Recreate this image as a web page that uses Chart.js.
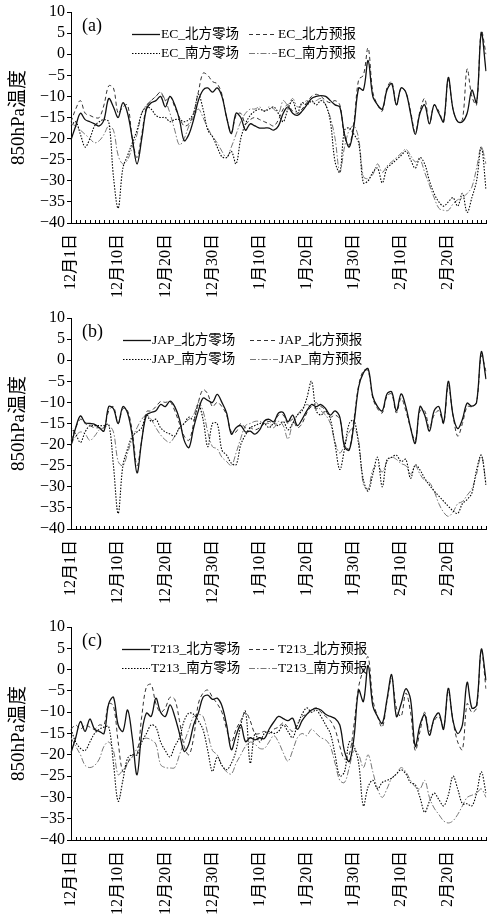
<!DOCTYPE html>
<html>
<head>
<meta charset="utf-8">
<script src="https://cdn.jsdelivr.net/npm/chart.js@4"></script>
<style>
  html, body { margin: 0; padding: 0; background: #fff; }
  canvas { display: block; }
</style>
</head>
<body>
<canvas id="panel-a" width="489" height="306"></canvas>
<canvas id="panel-b" width="489" height="306"></canvas>
<canvas id="panel-c" width="489" height="307"></canvas>
<script>
// 850hPa temperature, north/south regions: zero-field analysis vs forecast
// one point per day, 12月1日 .. 2月26日

const tickLabels = ['12月1日','12月10日','12月20日','12月30日','1月10日','1月20日','1月30日','2月10日','2月20日'];
const tickIndex = [0, 10, 20, 30, 40, 50, 60, 70, 80];
const dayCount = 89;

// ---- (a) EC ----
const ecNames = ['EC_北方零场', 'EC_北方预报', 'EC_南方零场', 'EC_南方预报'];
const ecNorthZero = [-20.3,-17,-14,-15.5,-16,-16.5,-17,-15.5,-10.5,-12.5,
  -15,-11.5,-14,-20,-26,-20,-13,-11.5,-11,-10,
  -12.5,-10,-12,-15.5,-20.5,-19,-15.5,-11,-8.5,-8,
  -9,-8,-10,-15,-18.8,-14,-15,-18,-16.5,-17,
  -17.5,-17.5,-17.5,-18,-17,-14,-12.5,-14,-14.5,-13.5,
  -12,-10.5,-10,-9.8,-10,-11,-12,-12.5,-19,-22,
  -17,-8,-8.5,-1.5,-10,-12,-13,-8.5,-7,-12,
  -8,-9,-14,-19,-14,-12,-16.5,-12,-14,-16,
  -5.5,-13,-16,-16,-14,-8.5,-11.5,5,-4];
const ecNorthFcst = [-16,-13,-11,-14,-14.5,-15,-15,-12,-7.5,-8,
  -14,-12.5,-12,-20,-24.5,-19,-12.5,-11,-10,-9,
  -11,-10,-12.5,-15,-17,-16.5,-14,-9,-4.5,-5,
  -6.5,-7,-9.5,-15,-18.5,-14.5,-14,-16.5,-15.5,-15,
  -15.5,-16,-16.5,-17,-15.5,-13,-12,-13.5,-14,-13,
  -11.5,-10,-9.5,-10,-11,-11.5,-11,-12,-19.5,-21.5,
  -16,-6,-5,1.5,-9,-12,-13.5,-8,-6.5,-12,
  -8,-9,-13.5,-18.5,-13.5,-10.5,-16.5,-12,-13.5,-16,
  -6,-13,-16,-15.5,-3.5,-10,-12,5.5,0];
const ecSouthZero = [-17,-16,-19,-22,-20,-17,-16,-15.5,-16,-29,
  -36.5,-27,-24,-21,-18,-14,-12.5,-13,-14.5,-15,
  -15,-16,-15.5,-15.5,-16,-15.5,-14,-9.5,-13,-18,
  -19.5,-22,-24.3,-24.5,-23,-26,-20,-16.5,-14.5,-13.5,
  -13,-13.5,-13,-12.5,-14,-16,-13,-11,-14,-11.5,
  -12,-11,-12,-11,-12,-16,-25.5,-28,-18,-17.5,
  -19,-21,-30.5,-30,-28,-27,-30.5,-27,-26,-25,
  -24,-23,-25,-27,-24.5,-26,-30,-33,-35,-36,
  -35,-34,-36,-33,-37.5,-34,-30,-22,-32];
const ecSouthFcst = [-16.5,-17,-18,-19,-20,-21,-20.5,-19,-17,-18,
  -24,-26,-25,-22,-19,-14,-12,-11,-10,-9,
  -11,-14,-18,-21.5,-20,-17,-15,-13,-15,-17.5,
  -19.5,-21,-23,-24.5,-22,-19,-16,-14,-13,-13,
  -12.5,-13.5,-12.5,-13,-14,-11,-12,-10.5,-12.5,-12,
  -11,-11.5,-11,-10.5,-12,-15,-20,-28,-22,-18,
  -17,-20,-29,-29.5,-28.5,-26,-28,-26.5,-25.5,-24.5,
  -23.5,-22.5,-24,-25.5,-25,-28,-31,-34,-36.5,-37,
  -37,-35.5,-34.5,-34,-33,-31.5,-27,-22,-26];

// ---- (b) JAP ----
const japNames = ['JAP_北方零场', 'JAP_北方预报', 'JAP_南方零场', 'JAP_南方预报'];
const japNorthZero = [-20.3,-16,-13.2,-14.8,-15,-15.2,-16,-16.8,-11,-11.5,
  -15,-11,-12.5,-18,-26.7,-19,-13,-12.4,-12,-10.5,
  -11,-9.7,-11,-14,-19,-20.7,-16,-12,-9,-9.5,
  -10,-8.1,-10,-12.5,-17.5,-16,-15.5,-17,-16.8,-17.5,
  -16.5,-14.4,-14,-14.6,-12.5,-12.4,-14.6,-13,-15.5,-14,
  -12,-10.5,-11,-10.5,-11.5,-13,-12,-13.5,-20.5,-21.3,
  -15,-6.3,-3,-2,-8.6,-11,-12,-8,-7.5,-12,
  -8,-11,-16,-19.7,-11,-13,-16.8,-12,-11,-14.8,
  -5,-13,-16.2,-14,-10.2,-10.9,-10,2,-4.5];
const japNorthFcst = [-19,-16,-14,-15,-15.5,-16,-16,-16,-12,-11,
  -15,-11.5,-12,-17,-25,-19,-12.2,-12,-11,-9.8,
  -10,-9.8,-12,-15,-18,-19,-15,-10,-7,-8,
  -11,-10,-11,-13,-17,-17,-15,-16,-16,-16.5,
  -16,-15,-14.5,-15,-13,-13,-15,-14,-16,-15,
  -12.5,-11,-11.5,-11,-12,-13.5,-13,-14,-20,-21,
  -14,-6,-2.5,-2.5,-9,-11.5,-12.5,-8.5,-8,-12.5,
  -9,-12,-16,-19,-12,-12,-16,-13,-12,-15,
  -6,-13,-18,-15,-11,-11,-10,1,-2.6];
const japSouthZero = [-16,-17.5,-19.5,-17,-15.5,-15.5,-15.5,-15.5,-15.2,-25,
  -36.3,-25,-21,-18,-17,-16,-13,-14.5,-14,-16,
  -17,-17.5,-18,-16,-15,-13.5,-14.2,-10.5,-14,-20.5,
  -15,-15,-21.3,-22.5,-24.4,-24.8,-20,-17.7,-16,-15.5,
  -15,-15,-16,-15,-15.5,-14.5,-16.5,-15,-13,-12,
  -9,-5,-12,-13,-12,-14,-20,-25.9,-21,-15,
  -14.2,-20,-28.4,-31,-27,-23,-30,-23.6,-23,-22.5,
  -24,-23.5,-28,-24.8,-26,-28,-29.6,-31,-32.2,-33.4,
  -34.6,-35.7,-36.3,-34,-33,-31.5,-26,-22.5,-29.6];
const japSouthFcst = [-20,-18,-17,-17.5,-19,-18,-16.5,-16,-15.5,-17,
  -24,-25,-22,-18.5,-16,-14,-13,-14,-16,-17.7,
  -18.9,-19.5,-18,-16,-15,-14,-13,-10,-12,-17,
  -20.5,-21,-23,-24,-25,-22,-18.5,-15.5,-15,-14.5,
  -14.5,-15,-15,-16,-14.5,-15.5,-18.7,-15,-13,-11.5,
  -10.5,-11,-10,-12,-13,-15,-19.5,-22,-20,-17,
  -16,-19,-29.5,-30.5,-26,-25,-26.5,-24,-23,-23.5,
  -24.5,-25,-27,-25,-27,-28.5,-29,-31,-34,-36,
  -37,-36,-34,-33.5,-32,-30.5,-27,-22.5,-29];

// ---- (c) T213 ----
const t213Names = ['T213_北方零场', 'T213_北方预报', 'T213_南方零场', 'T213_南方预报'];
const t213NorthZero = [-19.5,-16,-12.2,-14.5,-11.6,-14,-14.5,-15,-8,-6.5,
  -13,-14.5,-9.5,-16,-24.7,-15,-10.2,-11,-6.7,-10,
  -11,-8.3,-11,-15,-19.2,-17.5,-13,-10.2,-6.5,-6,
  -7,-6.7,-8.5,-13,-18.8,-15.5,-13,-16.9,-16,-16.5,
  -16,-16.2,-14,-12.3,-11,-11.5,-12,-11.4,-14,-12,
  -10.5,-9.5,-9.1,-9.5,-10.5,-11,-11.5,-13,-19.2,-21.6,
  -16,-4.8,-7.5,1,-8.5,-11,-12.6,-7,-1.2,-11,
  -8,-4.5,-7,-18,-13,-10.6,-15.4,-11.5,-10.2,-14,
  -4.4,-12,-15,-13,-3,-9,-8.4,4.8,-2.5];
const t213NorthFcst = [-14,-13,-14,-13,-13.5,-14,-13,-13,-8,-8.5,
  -17,-24,-22,-20,-20,-11,-4,-3.5,-8,-10,
  -9,-6.5,-7,-12,-18,-20,-16,-8,-5.5,-4.8,
  -6.5,-8,-10,-14,-17,-14,-12,-10,-12,-15,
  -15,-14.5,-15,-14,-13.5,-12.5,-13.5,-14.5,-13,-11,
  -10.5,-9.5,-9,-10,-11,-12,-14,-18,-21,-20,
  -13,-4,0,3,-7,-11,-13.5,-7.5,-2,-9,
  -11,-5.5,-10,-19,-14.5,-10,-14.5,-12,-11,-13.5,
  -5,-12,-17,-18.8,-8,-10,-9,4.5,-4.5];
const t213SouthZero = [-14,-17,-18.5,-19,-17,-15,-14,-13.5,-13.4,-22,
  -30.9,-26,-20.8,-20,-20,-17,-15,-13,-13.5,-17,
  -19,-20.5,-18,-16,-12,-10.2,-10.5,-12,-14.1,-19,
  -23.9,-20.5,-22.5,-23.5,-22,-19,-13,-9.8,-22,-15,
  -17,-15,-14.5,-15,-14.5,-13,-14.5,-16,-13,-10.5,
  -9,-10,-9.5,-11,-13,-15,-20,-25,-24,-17,
  -18,-22,-32,-27.5,-26,-28,-26.5,-26,-25.5,-24.5,
  -23.5,-24.5,-26.5,-27,-30,-33.5,-31,-29,-30.5,-32,
  -29.5,-25,-28,-31.5,-31.5,-32,-29,-24,-29];
const t213SouthFcst = [-16,-18,-20,-22.5,-23,-22.5,-21,-18,-17,-19,
  -24.7,-23.5,-22,-20.5,-18.5,-16.5,-16.1,-16.5,-17.5,-22.3,
  -23,-23.1,-23,-20,-17,-14,-11,-10.5,-11,-15,
  -19,-20,-22.5,-24,-24.5,-22,-20,-18,-17,-17.5,
  -18.5,-18.5,-17,-15.5,-17,-19.5,-21.5,-19,-16,-15,
  -15.5,-14,-15,-16,-16.5,-18,-22,-26,-26.5,-23,
  -19,-20,-23,-20,-24,-28,-30,-28,-25.5,-24.5,
  -23,-24,-26,-27.5,-28,-26,-30,-32.5,-34,-35.5,
  -36,-35.5,-34,-32,-30,-29.5,-29,-28,-30];

// line look per series: north zero / north fcst / south zero / south fcst
const lineStyles = [
  {color: '#111', width: 1.3, dash: []},
  {color: '#333', width: 1, dash: [4, 3]},
  {color: '#000', width: 1.1, dash: [1.5, 1.5]},
  {color: '#777', width: 1, dash: [6, 2, 1.5, 2]}
];

const SERIF = '"Liberation Serif", "Noto Sans CJK SC", serif';

const labels = Array.from({length: dayCount}, (_, i) => {
  const k = tickIndex.indexOf(i);
  return k >= 0 ? tickLabels[k] : '';
});

const fmtTemp = v => v < 0 ? '\u2212' + Math.abs(v) : String(v);

// inward day ticks, panel tag and the 2x2 legend inside the plot
const panelDecor = {
  id: 'panelDecor',
  afterDraw(chart, args, o) {
    const {ctx} = chart;
    const x = chart.scales.x;
    ctx.save();
    ctx.strokeStyle = '#000';
    ctx.lineWidth = 1;
    ctx.beginPath();
    x.ticks.forEach((t, i) => {
      const px = Math.round(x.getPixelForTick(i)) + 0.5;
      ctx.moveTo(px, x.top);
      ctx.lineTo(px, x.top - 3);
    });
    ctx.stroke();

    ctx.fillStyle = '#000';
    ctx.textBaseline = 'middle';
    ctx.font = '18px ' + SERIF;
    ctx.fillText(o.tag, o.tagX, o.tagY);

    ctx.font = '13.5px ' + SERIF;
    chart.data.datasets.forEach((ds, k) => {
      const sx = o.cols[k % 2];
      const sy = o.rows[Math.floor(k / 2)];
      ctx.setLineDash(ds.borderDash || []);
      ctx.strokeStyle = ds.borderColor;
      ctx.lineWidth = ds.borderWidth;
      ctx.beginPath();
      ctx.moveTo(sx, sy + 0.5);
      ctx.lineTo(sx + o.sample, sy + 0.5);
      ctx.stroke();
      ctx.setLineDash([]);
      ctx.fillText(ds.label, sx + o.sample + 1, sy);
    });
    ctx.restore();
  }
};

function makePanel(id, names, series, cfg) {
  const canvas = document.getElementById(id);
  const datasets = series.map((data, k) => ({
    label: names[k],
    data,
    borderColor: lineStyles[k].color,
    borderWidth: lineStyles[k].width,
    borderDash: lineStyles[k].dash,
    pointRadius: 0,
    tension: 0.35,
    fill: false
  }));
  return new Chart(canvas.getContext('2d'), {
    type: 'line',
    data: {labels, datasets},
    options: {
      responsive: false,
      animation: false,
      layout: {padding: {top: cfg.top, right: 3, left: 0, bottom: 0}},
      scales: {
        x: {
          type: 'category',
          offset: false,
          afterFit: s => { s.height = cfg.xHeight; s.paddingLeft = 0; s.paddingRight = 0; },
          grid: {drawOnChartArea: false, drawTicks: false},
          border: {color: '#000', width: 1},
          ticks: {autoSkip: false, minRotation: 90, maxRotation: 90, padding: 11,
                  color: '#000', font: {family: SERIF, size: 16}}
        },
        y: {
          min: -40, max: 10,
          afterFit: s => { s.width = 71; s.paddingTop = 0; s.paddingBottom = 0; },
          grid: {drawOnChartArea: false, drawTicks: true, tickLength: 4, color: '#000'},
          border: {color: '#000', width: 1},
          ticks: {stepSize: 5, autoSkip: false, padding: 2, color: '#000', callback: fmtTemp,
                  font: {family: SERIF, size: 16}},
          title: {display: true, text: '850hPa温度', color: '#000',
                  padding: {top: 8, bottom: 0}, font: {family: SERIF, size: 19}}
        }
      },
      plugins: {
        legend: {display: false},
        tooltip: {enabled: false},
        panelDecor: cfg.decor
      }
    },
    plugins: [panelDecor]
  });
}

makePanel('panel-a', ecNames, [ecNorthZero, ecNorthFcst, ecSouthZero, ecSouthFcst], {
  top: 12, xHeight: 83,
  decor: {tag: '(a)', tagX: 82, tagY: 26, rows: [34, 53], cols: [132, 249], sample: 28}
});
makePanel('panel-b', japNames, [japNorthZero, japNorthFcst, japSouthZero, japSouthFcst], {
  top: 12, xHeight: 83,
  decor: {tag: '(b)', tagX: 82, tagY: 26, rows: [34, 53], cols: [123, 250], sample: 28}
});
makePanel('panel-c', t213Names, [t213NorthZero, t213NorthFcst, t213SouthZero, t213SouthFcst], {
  top: 15, xHeight: 79,
  decor: {tag: '(c)', tagX: 82, tagY: 29, rows: [37, 56], cols: [122, 249], sample: 28}
});
</script>
</body>
</html>
